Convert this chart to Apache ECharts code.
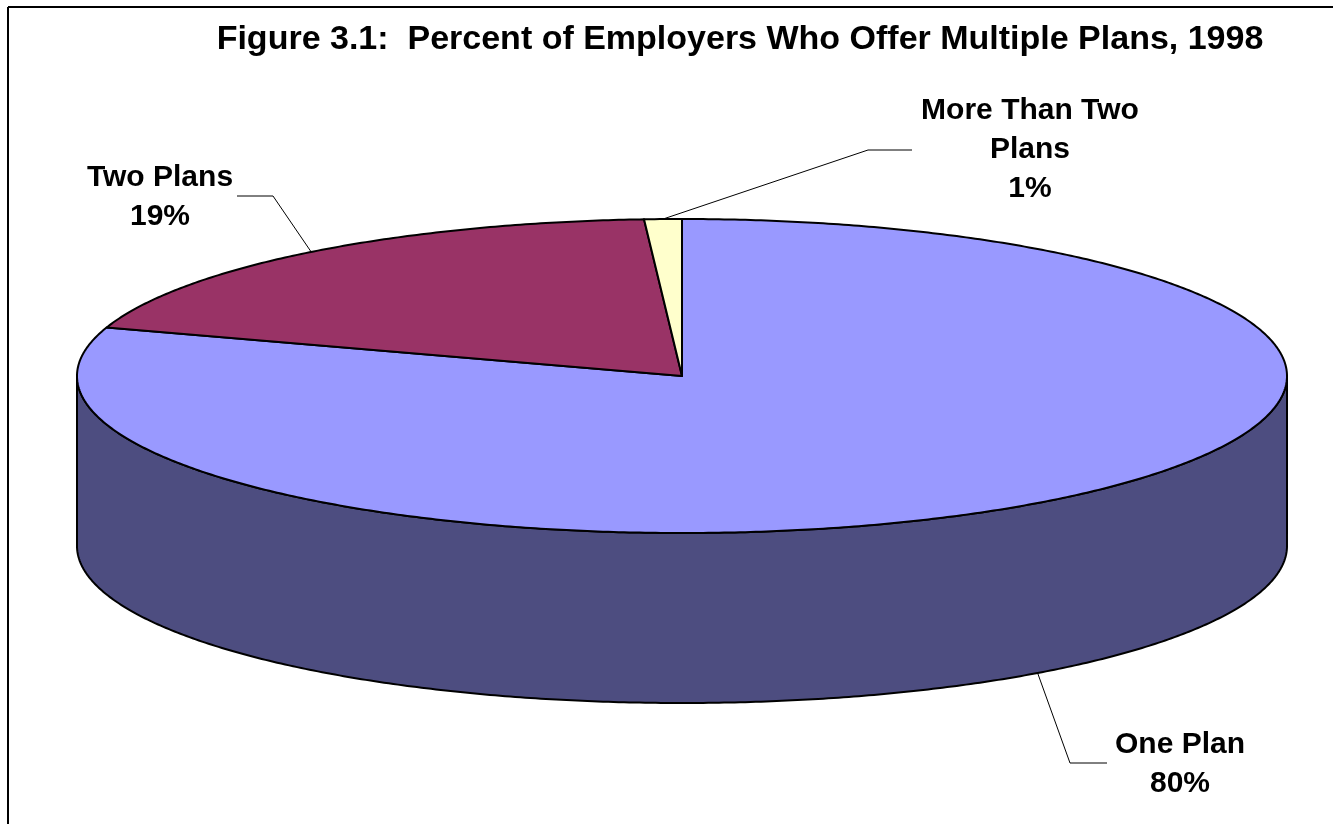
<!DOCTYPE html>
<html>
<head>
<meta charset="utf-8">
<title>Percent of Employers Who Offer Multiple Plans, 1998</title>
<script src="https://cdn.jsdelivr.net/npm/echarts@6/dist/echarts.min.js"></script>
<style>
  html, body { margin: 0; padding: 0; background: #fff; }
  #chart { width: 1333px; height: 824px; }
</style>
</head>
<body>
<div id="chart"></div>
<script>
// Plan counts offered by employers (share of employers, %)
const categories = ['One Plan', 'Two Plans', 'More Than Two\nPlans'];
const shares = [80, 19, 1];
const titleText = 'Figure 3.1:  Percent of Employers Who Offer Multiple Plans, 1998';

// Colours of the pie's top faces and its front wall
const topColors = ['#9999FF', '#993366', '#FFFFCC'];
const sideColors = ['#4D4D80', '#4D1A33', '#808066'];

// Geometry of the tilted pie (ellipse centre, radii, wall height)
const pie = { cx: 682, cy: 376, rx: 605, ry: 157, depth: 170 };

// Where each data label and its leader line sit
const labelLayout = [
  { elbow: [1070, 763], end: [1107, 763], text: [1180, 764] },
  { elbow: [273, 196], end: [237, 196], text: [160, 197] },
  { elbow: [868, 150], end: [912, 150], text: [1030, 150] }
];

const FONT = '"Liberation Sans", Arial, Helvetica, sans-serif';
const total = shares.reduce((a, b) => a + b, 0);

// angle in degrees, clockwise from 12 o'clock
function pt(deg, dy) {
  const r = deg * Math.PI / 180;
  return [pie.cx + pie.rx * Math.sin(r), pie.cy - pie.ry * Math.cos(r) + (dy || 0)];
}
function arc(a, b, dy) {
  const out = [];
  const step = 0.5;
  if (b >= a) {
    for (let d = a; d < b; d += step) out.push(pt(d, dy));
  } else {
    for (let d = a; d > b; d -= step) out.push(pt(d, dy));
  }
  out.push(pt(b, dy));
  return out;
}

function renderSlice(params, api) {
  const i = params.dataIndex;
  const v = api.value(0);
  let before = 0;
  for (let j = 0; j < i; j++) before += shares[j];
  const a0 = before / total * 360;
  const a1 = (before + v) / total * 360;
  const children = [];

  // front wall: only the part of the rim facing the viewer (90°..270°)
  const s = Math.max(a0, 90), e = Math.min(a1, 270);
  if (s < e) {
    const pts = arc(s, e, 0).concat(arc(e, s, pie.depth));
    children.push({
      type: 'polygon', z2: 1,
      shape: { points: pts },
      style: { fill: sideColors[i], stroke: '#000', lineWidth: 2, lineJoin: 'round' }
    });
  }

  // top face
  const topPts = [[pie.cx, pie.cy]].concat(arc(a0, a1, 0));
  children.push({
    type: 'polygon', z2: 5,
    shape: { points: topPts },
    style: { fill: topColors[i], stroke: '#000', lineWidth: 2, lineJoin: 'round' }
  });

  // leader line from the slice's middle to its label
  const mid = (a0 + a1) / 2;
  const anchor = (mid > 90 && mid < 270) ? pt(mid, pie.depth) : pt(mid, 0);
  const lay = labelLayout[i];
  children.push({
    type: 'polyline', z2: 8,
    shape: { points: [anchor, lay.elbow, lay.end] },
    style: { stroke: '#000', lineWidth: 1, fill: null }
  });
  children.push({
    type: 'text', z2: 10,
    style: {
      text: categories[i] + '\n' + v + '%',
      x: lay.text[0], y: lay.text[1],
      align: 'center', verticalAlign: 'middle',
      font: 'bold 30px ' + FONT,
      lineHeight: 39,
      fill: '#000'
    }
  });

  return { type: 'group', children: children };
}

const chart = echarts.init(document.getElementById('chart'), null, { renderer: 'canvas' });
chart.setOption({
  animation: false,
  backgroundColor: '#fff',
  graphic: [
    { type: 'line', shape: { x1: 8, y1: 7, x2: 1333, y2: 7 }, style: { stroke: '#000', lineWidth: 2 } },
    { type: 'line', shape: { x1: 8, y1: 7, x2: 8, y2: 824 }, style: { stroke: '#000', lineWidth: 2 } },
    {
      type: 'text', x: 740, y: 40,
      style: {
        text: titleText,
        align: 'center', verticalAlign: 'middle',
        font: 'bold 34px ' + FONT, fill: '#000'
      }
    }
  ],
  series: [{
    type: 'custom',
    coordinateSystem: 'none',
    renderItem: renderSlice,
    data: shares.map((v, i) => ({ name: categories[i], value: [v] }))
  }]
});
</script>
</body>
</html>
